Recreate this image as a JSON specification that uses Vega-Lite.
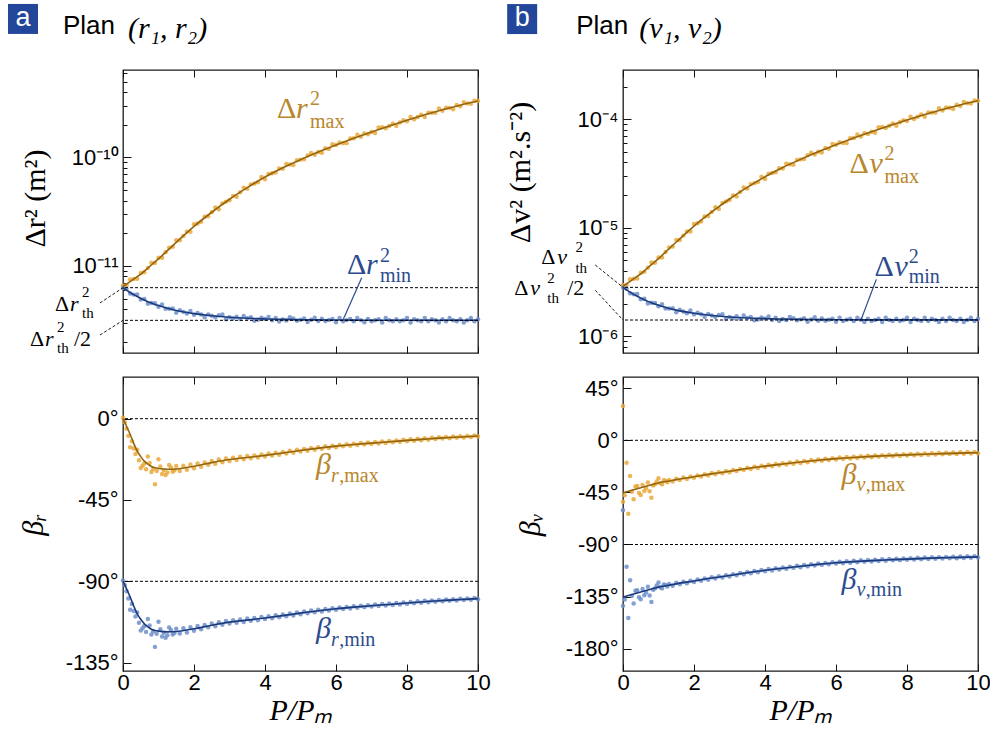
{
"$schema":"https://vega.github.io/schema/vega-lite/v6.json",
"background":"white",
"padding":{"left":7,"top":3,"right":0,"bottom":0},
"autosize":{"type":"pad"},
"config":{
 "view":{"stroke":"#1a1a1a","strokeWidth":1.3},
 "axis":{"domain":false,"grid":false,"tickColor":"#111","tickWidth":1,"labelFont":"Liberation Sans","labelFontSize":22,"labelColor":"#000","titleFont":"Liberation Serif","titleFontSize":28,"titleFontWeight":"normal","titleColor":"#000","labelFlush":false,"labelOverlap":false},
 "text":{"font":"Liberation Serif"}
},
"datasets":{
"pts":[
{"p":0,"rx":-11.18,"vx":-5.53,"rn":-11.2,"vn":-5.55,"brx":0.5,"brn":-89.5,"bvx":-53,"bvn":-143},
{"p":0.1,"rx":-11.177,"vx":-5.527,"rn":-11.213,"vn":-5.563,"brx":-5.5,"brn":-95.5,"bvx":-19.3,"bvn":-109.3},
{"p":0.2,"rx":-11.124,"vx":-5.474,"rn":-11.254,"vn":-5.604,"brx":-15.8,"brn":-105.8,"bvx":-30.8,"bvn":-120.8},
{"p":0.3,"rx":-11.121,"vx":-5.471,"rn":-11.264,"vn":-5.614,"brx":-16.5,"brn":-106.5,"bvx":-51,"bvn":-141},
{"p":0.4,"rx":-11.118,"vx":-5.468,"rn":-11.262,"vn":-5.612,"brx":-17.2,"brn":-107.2,"bvx":-39.5,"bvn":-129.5},
{"p":0.5,"rx":-11.065,"vx":-5.415,"rn":-11.309,"vn":-5.659,"brx":-27.3,"brn":-117.3,"bvx":-47.3,"bvn":-137.3},
{"p":0.6,"rx":-11.057,"vx":-5.407,"rn":-11.304,"vn":-5.654,"brx":-24.8,"brn":-114.8,"bvx":-43.8,"bvn":-133.8},
{"p":0.7,"rx":-11.019,"vx":-5.369,"rn":-11.349,"vn":-5.699,"brx":-20.9,"brn":-110.9,"bvx":-36.5,"bvn":-126.5},
{"p":0.8,"rx":-10.971,"vx":-5.321,"rn":-11.342,"vn":-5.692,"brx":-29.5,"brn":-119.5,"bvx":-49.6,"bvn":-139.6},
{"p":0.9,"rx":-10.973,"vx":-5.323,"rn":-11.344,"vn":-5.694,"brx":-36.3,"brn":-126.3,"bvx":-38,"bvn":-128},
{"p":1.0,"rx":-10.925,"vx":-5.275,"rn":-11.375,"vn":-5.725,"brx":-22.4,"brn":-112.4,"bvx":-32.8,"bvn":-122.8},
{"p":1.1,"rx":-10.924,"vx":-5.274,"rn":-11.356,"vn":-5.706,"brx":-30.6,"brn":-120.6,"bvx":-37.9,"bvn":-127.9},
{"p":1.2,"rx":-10.874,"vx":-5.224,"rn":-11.395,"vn":-5.745,"brx":-31.2,"brn":-121.2,"bvx":-35,"bvn":-125},
{"p":1.3,"rx":-10.833,"vx":-5.183,"rn":-11.394,"vn":-5.744,"brx":-25.6,"brn":-115.6,"bvx":-34.2,"bvn":-124.2},
{"p":1.4,"rx":-10.823,"vx":-5.173,"rn":-11.392,"vn":-5.742,"brx":-29.4,"brn":-119.4,"bvx":-35.6,"bvn":-125.6},
{"p":1.5,"rx":-10.762,"vx":-5.112,"rn":-11.43,"vn":-5.78,"brx":-26.2,"brn":-116.2,"bvx":-33.1,"bvn":-123.1},
{"p":1.6,"rx":-10.763,"vx":-5.113,"rn":-11.407,"vn":-5.757,"brx":-28.9,"brn":-118.9,"bvx":-34.3,"bvn":-124.3},
{"p":1.7,"rx":-10.723,"vx":-5.073,"rn":-11.423,"vn":-5.773,"brx":-26,"brn":-116,"bvx":-32.2,"bvn":-122.2},
{"p":1.8,"rx":-10.684,"vx":-5.034,"rn":-11.439,"vn":-5.789,"brx":-28.3,"brn":-118.3,"bvx":-33.4,"bvn":-123.4},
{"p":1.9,"rx":-10.684,"vx":-5.034,"rn":-11.414,"vn":-5.764,"brx":-25.4,"brn":-115.4,"bvx":-31.2,"bvn":-121.2},
{"p":2.0,"rx":-10.615,"vx":-4.965,"rn":-11.449,"vn":-5.799,"brx":-27.4,"brn":-117.4,"bvx":-32.3,"bvn":-122.3},
{"p":2.1,"rx":-10.609,"vx":-4.959,"rn":-11.434,"vn":-5.784,"brx":-24.8,"brn":-114.8,"bvx":-30.3,"bvn":-120.3},
{"p":2.2,"rx":-10.593,"vx":-4.943,"rn":-11.448,"vn":-5.798,"brx":-26.6,"brn":-116.6,"bvx":-31.3,"bvn":-121.3},
{"p":2.3,"rx":-10.547,"vx":-4.897,"rn":-11.472,"vn":-5.822,"brx":-24.2,"brn":-114.2,"bvx":-29.3,"bvn":-119.3},
{"p":2.4,"rx":-10.541,"vx":-4.891,"rn":-11.446,"vn":-5.796,"brx":-25.5,"brn":-115.5,"bvx":-30.4,"bvn":-120.4},
{"p":2.5,"rx":-10.505,"vx":-4.855,"rn":-11.459,"vn":-5.809,"brx":-23.4,"brn":-113.4,"bvx":-28.3,"bvn":-118.3},
{"p":2.6,"rx":-10.461,"vx":-4.811,"rn":-11.473,"vn":-5.823,"brx":-24.9,"brn":-114.9,"bvx":-29.4,"bvn":-119.4},
{"p":2.7,"rx":-10.477,"vx":-4.827,"rn":-11.455,"vn":-5.805,"brx":-22.6,"brn":-112.6,"bvx":-27.4,"bvn":-117.4},
{"p":2.8,"rx":-10.423,"vx":-4.773,"rn":-11.448,"vn":-5.798,"brx":-24.1,"brn":-114.1,"bvx":-28.5,"bvn":-118.5},
{"p":2.9,"rx":-10.409,"vx":-4.759,"rn":-11.491,"vn":-5.841,"brx":-22,"brn":-112,"bvx":-26.5,"bvn":-116.5},
{"p":3.0,"rx":-10.395,"vx":-4.745,"rn":-11.473,"vn":-5.823,"brx":-23.4,"brn":-113.4,"bvx":-27.6,"bvn":-117.6},
{"p":3.1,"rx":-10.354,"vx":-4.704,"rn":-11.485,"vn":-5.835,"brx":-21.6,"brn":-111.6,"bvx":-25.6,"bvn":-115.6},
{"p":3.2,"rx":-10.362,"vx":-4.712,"rn":-11.467,"vn":-5.817,"brx":-22.9,"brn":-112.9,"bvx":-26.6,"bvn":-116.6},
{"p":3.3,"rx":-10.321,"vx":-4.671,"rn":-11.489,"vn":-5.839,"brx":-21.1,"brn":-111.1,"bvx":-24.7,"bvn":-114.7},
{"p":3.4,"rx":-10.279,"vx":-4.629,"rn":-11.46,"vn":-5.81,"brx":-22.5,"brn":-112.5,"bvx":-25.7,"bvn":-115.7},
{"p":3.5,"rx":-10.288,"vx":-4.638,"rn":-11.482,"vn":-5.832,"brx":-20.6,"brn":-110.6,"bvx":-23.7,"bvn":-113.7},
{"p":3.6,"rx":-10.248,"vx":-4.598,"rn":-11.473,"vn":-5.823,"brx":-21.9,"brn":-111.9,"bvx":-24.8,"bvn":-114.8},
{"p":3.7,"rx":-10.239,"vx":-4.589,"rn":-11.504,"vn":-5.854,"brx":-20.3,"brn":-110.3,"bvx":-22.9,"bvn":-112.9},
{"p":3.8,"rx":-10.229,"vx":-4.579,"rn":-11.496,"vn":-5.846,"brx":-21.5,"brn":-111.5,"bvx":-23.9,"bvn":-113.9},
{"p":3.9,"rx":-10.18,"vx":-4.53,"rn":-11.477,"vn":-5.827,"brx":-19.8,"brn":-109.8,"bvx":-22,"bvn":-112},
{"p":4.0,"rx":-10.2,"vx":-4.55,"rn":-11.488,"vn":-5.838,"brx":-20.9,"brn":-110.9,"bvx":-23.1,"bvn":-113.1},
{"p":4.1,"rx":-10.153,"vx":-4.503,"rn":-11.469,"vn":-5.819,"brx":-19.3,"brn":-109.3,"bvx":-21.2,"bvn":-111.2},
{"p":4.2,"rx":-10.146,"vx":-4.496,"rn":-11.5,"vn":-5.85,"brx":-20.4,"brn":-110.4,"bvx":-22.4,"bvn":-112.4},
{"p":4.3,"rx":-10.139,"vx":-4.489,"rn":-11.48,"vn":-5.83,"brx":-18.8,"brn":-108.8,"bvx":-20.5,"bvn":-110.5},
{"p":4.4,"rx":-10.102,"vx":-4.452,"rn":-11.511,"vn":-5.861,"brx":-19.9,"brn":-109.9,"bvx":-21.6,"bvn":-111.6},
{"p":4.5,"rx":-10.105,"vx":-4.455,"rn":-11.492,"vn":-5.842,"brx":-18.4,"brn":-108.4,"bvx":-19.8,"bvn":-109.8},
{"p":4.6,"rx":-10.06,"vx":-4.41,"rn":-11.502,"vn":-5.852,"brx":-19.3,"brn":-109.3,"bvx":-21,"bvn":-111},
{"p":4.7,"rx":-10.065,"vx":-4.415,"rn":-11.473,"vn":-5.823,"brx":-17.8,"brn":-107.8,"bvx":-19.1,"bvn":-109.1},
{"p":4.8,"rx":-10.07,"vx":-4.42,"rn":-11.484,"vn":-5.834,"brx":-18.9,"brn":-108.9,"bvx":-20.2,"bvn":-110.2},
{"p":4.9,"rx":-10.025,"vx":-4.375,"rn":-11.504,"vn":-5.854,"brx":-17.2,"brn":-107.2,"bvx":-18.4,"bvn":-108.4},
{"p":5.0,"rx":-10.02,"vx":-4.37,"rn":-11.495,"vn":-5.845,"brx":-18.2,"brn":-108.2,"bvx":-19.6,"bvn":-109.6},
{"p":5.1,"rx":-10.016,"vx":-4.366,"rn":-11.485,"vn":-5.835,"brx":-16.7,"brn":-106.7,"bvx":-17.8,"bvn":-107.8},
{"p":5.2,"rx":-9.982,"vx":-4.332,"rn":-11.516,"vn":-5.866,"brx":-17.7,"brn":-107.7,"bvx":-18.9,"bvn":-108.9},
{"p":5.3,"rx":-9.958,"vx":-4.308,"rn":-11.496,"vn":-5.846,"brx":-16.2,"brn":-106.2,"bvx":-17.1,"bvn":-107.1},
{"p":5.4,"rx":-9.974,"vx":-4.324,"rn":-11.476,"vn":-5.826,"brx":-17.2,"brn":-107.2,"bvx":-18.2,"bvn":-108.2},
{"p":5.5,"rx":-9.95,"vx":-4.3,"rn":-11.507,"vn":-5.857,"brx":-15.8,"brn":-105.8,"bvx":-16.5,"bvn":-106.5},
{"p":5.6,"rx":-9.957,"vx":-4.307,"rn":-11.487,"vn":-5.837,"brx":-16.7,"brn":-106.7,"bvx":-17.6,"bvn":-107.6},
{"p":5.7,"rx":-9.914,"vx":-4.264,"rn":-11.507,"vn":-5.857,"brx":-15.3,"brn":-105.3,"bvx":-15.9,"bvn":-105.9},
{"p":5.8,"rx":-9.921,"vx":-4.271,"rn":-11.498,"vn":-5.848,"brx":-16.2,"brn":-106.2,"bvx":-17.1,"bvn":-107.1},
{"p":5.9,"rx":-9.878,"vx":-4.228,"rn":-11.488,"vn":-5.838,"brx":-14.9,"brn":-104.9,"bvx":-15.4,"bvn":-105.4},
{"p":6.0,"rx":-9.885,"vx":-4.235,"rn":-11.518,"vn":-5.868,"brx":-15.8,"brn":-105.8,"bvx":-16.5,"bvn":-106.5},
{"p":6.1,"rx":-9.863,"vx":-4.213,"rn":-11.479,"vn":-5.829,"brx":-14.5,"brn":-104.5,"bvx":-14.9,"bvn":-104.9},
{"p":6.2,"rx":-9.87,"vx":-4.22,"rn":-11.509,"vn":-5.859,"brx":-15.3,"brn":-105.3,"bvx":-16.1,"bvn":-106.1},
{"p":6.3,"rx":-9.868,"vx":-4.218,"rn":-11.499,"vn":-5.849,"brx":-14.2,"brn":-104.2,"bvx":-14.5,"bvn":-104.5},
{"p":6.4,"rx":-9.825,"vx":-4.175,"rn":-11.489,"vn":-5.839,"brx":-15,"brn":-105,"bvx":-15.7,"bvn":-105.7},
{"p":6.5,"rx":-9.823,"vx":-4.173,"rn":-11.509,"vn":-5.859,"brx":-13.8,"brn":-103.8,"bvx":-14.1,"bvn":-104.1},
{"p":6.6,"rx":-9.791,"vx":-4.141,"rn":-11.479,"vn":-5.829,"brx":-14.6,"brn":-104.6,"bvx":-15.3,"bvn":-105.3},
{"p":6.7,"rx":-9.81,"vx":-4.16,"rn":-11.499,"vn":-5.849,"brx":-13.5,"brn":-103.5,"bvx":-13.7,"bvn":-103.7},
{"p":6.8,"rx":-9.778,"vx":-4.128,"rn":-11.519,"vn":-5.869,"brx":-14.3,"brn":-104.3,"bvx":-14.9,"bvn":-104.9},
{"p":6.9,"rx":-9.787,"vx":-4.137,"rn":-11.489,"vn":-5.839,"brx":-13.2,"brn":-103.2,"bvx":-13.4,"bvn":-103.4},
{"p":7.0,"rx":-9.765,"vx":-4.115,"rn":-11.51,"vn":-5.86,"brx":-14,"brn":-104,"bvx":-14.6,"bvn":-104.6},
{"p":7.1,"rx":-9.774,"vx":-4.124,"rn":-11.5,"vn":-5.85,"brx":-12.9,"brn":-102.9,"bvx":-13.1,"bvn":-103.1},
{"p":7.2,"rx":-9.723,"vx":-4.073,"rn":-11.49,"vn":-5.84,"brx":-13.7,"brn":-103.7,"bvx":-14.3,"bvn":-104.3},
{"p":7.3,"rx":-9.722,"vx":-4.072,"rn":-11.52,"vn":-5.87,"brx":-12.6,"brn":-102.6,"bvx":-12.8,"bvn":-102.8},
{"p":7.4,"rx":-9.731,"vx":-4.081,"rn":-11.48,"vn":-5.83,"brx":-13.4,"brn":-103.4,"bvx":-14,"bvn":-104},
{"p":7.5,"rx":-9.71,"vx":-4.06,"rn":-11.5,"vn":-5.85,"brx":-12.3,"brn":-102.3,"bvx":-12.5,"bvn":-102.5},
{"p":7.6,"rx":-9.689,"vx":-4.039,"rn":-11.51,"vn":-5.86,"brx":-13.1,"brn":-103.1,"bvx":-13.7,"bvn":-103.7},
{"p":7.7,"rx":-9.709,"vx":-4.059,"rn":-11.49,"vn":-5.84,"brx":-12,"brn":-102,"bvx":-12.3,"bvn":-102.3},
{"p":7.8,"rx":-9.678,"vx":-4.028,"rn":-11.51,"vn":-5.86,"brx":-12.8,"brn":-102.8,"bvx":-13.5,"bvn":-103.5},
{"p":7.9,"rx":-9.658,"vx":-4.008,"rn":-11.5,"vn":-5.85,"brx":-11.7,"brn":-101.7,"bvx":-12,"bvn":-102},
{"p":8.0,"rx":-9.667,"vx":-4.017,"rn":-11.48,"vn":-5.83,"brx":-12.5,"brn":-102.5,"bvx":-13.2,"bvn":-103.2},
{"p":8.1,"rx":-9.627,"vx":-3.977,"rn":-11.52,"vn":-5.87,"brx":-11.4,"brn":-101.4,"bvx":-11.8,"bvn":-101.8},
{"p":8.2,"rx":-9.647,"vx":-3.997,"rn":-11.49,"vn":-5.84,"brx":-12.2,"brn":-102.2,"bvx":-13,"bvn":-103},
{"p":8.3,"rx":-9.627,"vx":-3.977,"rn":-11.5,"vn":-5.85,"brx":-11.1,"brn":-101.1,"bvx":-11.5,"bvn":-101.5},
{"p":8.4,"rx":-9.607,"vx":-3.957,"rn":-11.51,"vn":-5.86,"brx":-11.9,"brn":-101.9,"bvx":-12.7,"bvn":-102.7},
{"p":8.5,"rx":-9.627,"vx":-3.977,"rn":-11.48,"vn":-5.83,"brx":-10.8,"brn":-100.8,"bvx":-11.3,"bvn":-101.3},
{"p":8.6,"rx":-9.588,"vx":-3.938,"rn":-11.51,"vn":-5.86,"brx":-11.6,"brn":-101.6,"bvx":-12.5,"bvn":-102.5},
{"p":8.7,"rx":-9.588,"vx":-3.938,"rn":-11.49,"vn":-5.84,"brx":-10.6,"brn":-100.6,"bvx":-11.1,"bvn":-101.1},
{"p":8.8,"rx":-9.589,"vx":-3.939,"rn":-11.5,"vn":-5.85,"brx":-11.3,"brn":-101.3,"bvx":-12.3,"bvn":-102.3},
{"p":8.9,"rx":-9.549,"vx":-3.899,"rn":-11.52,"vn":-5.87,"brx":-10.3,"brn":-100.3,"bvx":-10.9,"bvn":-100.9},
{"p":9.0,"rx":-9.57,"vx":-3.92,"rn":-11.49,"vn":-5.84,"brx":-11,"brn":-101,"bvx":-12.1,"bvn":-102.1},
{"p":9.1,"rx":-9.542,"vx":-3.892,"rn":-11.51,"vn":-5.86,"brx":-10.1,"brn":-100.1,"bvx":-10.7,"bvn":-100.7},
{"p":9.2,"rx":-9.543,"vx":-3.893,"rn":-11.48,"vn":-5.83,"brx":-10.8,"brn":-100.8,"bvx":-11.9,"bvn":-101.9},
{"p":9.3,"rx":-9.555,"vx":-3.905,"rn":-11.5,"vn":-5.85,"brx":-9.9,"brn":-99.9,"bvx":-10.6,"bvn":-100.6},
{"p":9.4,"rx":-9.516,"vx":-3.866,"rn":-11.51,"vn":-5.86,"brx":-10.6,"brn":-100.6,"bvx":-11.8,"bvn":-101.8},
{"p":9.5,"rx":-9.528,"vx":-3.878,"rn":-11.49,"vn":-5.84,"brx":-9.7,"brn":-99.7,"bvx":-10.4,"bvn":-100.4},
{"p":9.6,"rx":-9.49,"vx":-3.84,"rn":-11.52,"vn":-5.87,"brx":-10.4,"brn":-100.4,"bvx":-11.6,"bvn":-101.6},
{"p":9.7,"rx":-9.503,"vx":-3.853,"rn":-11.5,"vn":-5.85,"brx":-9.5,"brn":-99.5,"bvx":-10.2,"bvn":-100.2},
{"p":9.8,"rx":-9.505,"vx":-3.855,"rn":-11.48,"vn":-5.83,"brx":-10.2,"brn":-100.2,"bvx":-11.4,"bvn":-101.4},
{"p":9.9,"rx":-9.478,"vx":-3.828,"rn":-11.51,"vn":-5.86,"brx":-9.3,"brn":-99.3,"bvx":-10.1,"bvn":-100.1},
{"p":10.0,"rx":-9.48,"vx":-3.83,"rn":-11.49,"vn":-5.84,"brx":-9.9,"brn":-99.9,"bvx":-11.2,"bvn":-101.2},
{"p":0,"bvx":29.6,"bvn":-60.4},
{"p":0.05,"brx":-2,"brn":-92,"bvx":-47.5,"bvn":-137.5},
{"p":0.15,"brx":-9.5,"brn":-99.5,"bvx":-63.4,"bvn":-153.4},
{"p":0.25,"brx":-12.5,"brn":-102.5,"bvx":-44.5,"bvn":-134.5},
{"p":0.35,"brx":-19.5,"brn":-109.5,"bvx":-40,"bvn":-130},
{"p":0.45,"brx":-23,"brn":-113,"bvx":-45.5,"bvn":-135.5},
{"p":0.55,"brx":-26,"brn":-116,"bvx":-38.5,"bvn":-128.5},
{"p":0.65,"brx":-28,"brn":-118,"bvx":-41.5,"bvn":-131.5},
{"p":0.75,"brx":-24.5,"brn":-114.5,"bvx":-44,"bvn":-134},
{"p":0.85,"brx":-27.8,"brn":-117.8,"bvx":-39,"bvn":-129},
{"p":0.95,"brx":-29,"brn":-119,"bvx":-35.5,"bvn":-125.5},
{"p":1.05,"brx":-26.5,"brn":-116.5,"bvx":-37,"bvn":-127},
{"p":1.15,"brx":-28.5,"brn":-118.5,"bvx":-34.5,"bvn":-124.5},
{"p":1.25,"brx":-29.8,"brn":-119.8,"bvx":-36.2,"bvn":-126.2},
{"p":1.35,"brx":-27,"brn":-117},
{"p":1.45,"brx":-28.6,"brn":-118.6}
],
"fit":[
{"p":0,"rx":-11.19,"rn":-11.2,"vx":-5.54,"vn":-5.55,"brx":0,"brn":-90,"bvx":-45.3,"bvn":-135.3},
{"p":0.1,"rx":-11.167,"rn":-11.223,"vx":-5.517,"vn":-5.573,"brx":-4.2,"brn":-94.2,"bvx":-44.4,"bvn":-134.4},
{"p":0.2,"rx":-11.144,"rn":-11.244,"vx":-5.494,"vn":-5.594,"brx":-8.6,"brn":-98.6,"bvx":-43.6,"bvn":-133.6},
{"p":0.3,"rx":-11.121,"rn":-11.264,"vx":-5.471,"vn":-5.614,"brx":-13.5,"brn":-103.5,"bvx":-42.7,"bvn":-132.7},
{"p":0.4,"rx":-11.098,"rn":-11.282,"vx":-5.448,"vn":-5.632,"brx":-18,"brn":-108,"bvx":-41.9,"bvn":-131.9},
{"p":0.5,"rx":-11.075,"rn":-11.299,"vx":-5.425,"vn":-5.649,"brx":-21,"brn":-111,"bvx":-41,"bvn":-131},
{"p":0.6,"rx":-11.047,"rn":-11.314,"vx":-5.397,"vn":-5.664,"brx":-23.5,"brn":-113.5,"bvx":-40.2,"bvn":-130.2},
{"p":0.7,"rx":-11.019,"rn":-11.329,"vx":-5.369,"vn":-5.679,"brx":-25.2,"brn":-115.2,"bvx":-39.3,"bvn":-129.3},
{"p":0.8,"rx":-10.991,"rn":-11.342,"vx":-5.341,"vn":-5.692,"brx":-26.5,"brn":-116.5,"bvx":-38.5,"bvn":-128.5},
{"p":0.9,"rx":-10.963,"rn":-11.354,"vx":-5.313,"vn":-5.704,"brx":-27.2,"brn":-117.2,"bvx":-37.6,"bvn":-127.6},
{"p":1.0,"rx":-10.935,"rn":-11.365,"vx":-5.285,"vn":-5.715,"brx":-27.6,"brn":-117.6,"bvx":-36.8,"bvn":-126.8},
{"p":1.25,"rx":-10.858,"rn":-11.39,"vx":-5.208,"vn":-5.74,"brx":-28,"brn":-118,"bvx":-35.4,"bvn":-125.4},
{"p":1.5,"rx":-10.782,"rn":-11.41,"vx":-5.132,"vn":-5.76,"brx":-27.8,"brn":-117.8,"bvx":-34,"bvn":-124},
{"p":2,"rx":-10.635,"rn":-11.439,"vx":-4.985,"vn":-5.789,"brx":-26.3,"brn":-116.3,"bvx":-31.5,"bvn":-121.5},
{"p":2.5,"rx":-10.505,"rn":-11.459,"vx":-4.855,"vn":-5.809,"brx":-24.3,"brn":-114.3,"bvx":-29,"bvn":-119},
{"p":3,"rx":-10.385,"rn":-11.473,"vx":-4.735,"vn":-5.823,"brx":-22.6,"brn":-112.6,"bvx":-26.8,"bvn":-116.8},
{"p":3.5,"rx":-10.278,"rn":-11.482,"vx":-4.628,"vn":-5.832,"brx":-21.5,"brn":-111.5,"bvx":-24.4,"bvn":-114.4},
{"p":4,"rx":-10.18,"rn":-11.488,"vx":-4.53,"vn":-5.838,"brx":-20.3,"brn":-110.3,"bvx":-22.3,"bvn":-112.3},
{"p":4.5,"rx":-10.095,"rn":-11.492,"vx":-4.445,"vn":-5.842,"brx":-19,"brn":-109,"bvx":-20.5,"bvn":-110.5},
{"p":5,"rx":-10.02,"rn":-11.495,"vx":-4.37,"vn":-5.845,"brx":-17.6,"brn":-107.6,"bvx":-18.8,"bvn":-108.8},
{"p":5.5,"rx":-9.95,"rn":-11.497,"vx":-4.3,"vn":-5.847,"brx":-16.3,"brn":-106.3,"bvx":-17.2,"bvn":-107.2},
{"p":6,"rx":-9.885,"rn":-11.498,"vx":-4.235,"vn":-5.848,"brx":-15.2,"brn":-105.2,"bvx":-15.8,"bvn":-105.8},
{"p":6.5,"rx":-9.823,"rn":-11.499,"vx":-4.173,"vn":-5.849,"brx":-14.3,"brn":-104.3,"bvx":-14.8,"bvn":-104.8},
{"p":7,"rx":-9.765,"rn":-11.5,"vx":-4.115,"vn":-5.85,"brx":-13.5,"brn":-103.5,"bvx":-13.9,"bvn":-103.9},
{"p":7.5,"rx":-9.71,"rn":-11.5,"vx":-4.06,"vn":-5.85,"brx":-12.8,"brn":-102.8,"bvx":-13.2,"bvn":-103.2},
{"p":8,"rx":-9.657,"rn":-11.5,"vx":-4.007,"vn":-5.85,"brx":-12,"brn":-102,"bvx":-12.6,"bvn":-102.6},
{"p":8.5,"rx":-9.607,"rn":-11.5,"vx":-3.957,"vn":-5.85,"brx":-11.3,"brn":-101.3,"bvx":-12,"bvn":-102},
{"p":9,"rx":-9.56,"rn":-11.5,"vx":-3.91,"vn":-5.85,"brx":-10.6,"brn":-100.6,"bvx":-11.5,"bvn":-101.5},
{"p":9.5,"rx":-9.518,"rn":-11.5,"vx":-3.868,"vn":-5.85,"brx":-10.1,"brn":-100.1,"bvx":-11.1,"bvn":-101.1},
{"p":10,"rx":-9.48,"rn":-11.5,"vx":-3.83,"vn":-5.85,"brx":-9.6,"brn":-99.6,"bvx":-10.7,"bvn":-100.7}
],
"refl":[
{"pan":"LT","y":-11.2},{"pan":"LT","y":-11.501},
{"pan":"RT","y":-5.55},{"pan":"RT","y":-5.851},
{"pan":"LB","y":0},{"pan":"LB","y":-90},
{"pan":"RB","y":0},{"pan":"RB","y":-90}
],
"lead":[
{"pan":"LT","id":"t1","kind":"th","p":-0.648,"y":-11.341},{"pan":"LT","id":"t1","kind":"th","p":0,"y":-11.2},
{"pan":"LT","id":"t2","kind":"th","p":-0.648,"y":-11.636},{"pan":"LT","id":"t2","kind":"th","p":0,"y":-11.501},
{"pan":"LT","id":"m","kind":"min","p":6.724,"y":-11.108},{"pan":"LT","id":"m","kind":"min","p":6.206,"y":-11.491},
{"pan":"RT","id":"t1","kind":"th","p":-0.781,"y":-5.344},{"pan":"RT","id":"t1","kind":"th","p":0,"y":-5.55},
{"pan":"RT","id":"t2","kind":"th","p":-0.781,"y":-5.577},{"pan":"RT","id":"t2","kind":"th","p":0,"y":-5.851},
{"pan":"RT","id":"m","kind":"min","p":7.135,"y":-5.476},{"pan":"RT","id":"m","kind":"min","p":6.712,"y":-5.844}
],
"ann":[
{"pan":"LT","k":"Lr","s":"o","t":"Δ","p":4.338,"y":-9.636},
{"pan":"LT","k":"Li","s":"o","t":"r","p":4.873,"y":-9.636},
{"pan":"LT","k":"Sr","s":"o","t":"2","p":5.268,"y":-9.516},
{"pan":"LT","k":"Sr","s":"o","t":"max","p":5.268,"y":-9.728},
{"pan":"LT","k":"Lr","s":"b","t":"Δ","p":6.31,"y":-11.074},
{"pan":"LT","k":"Li","s":"b","t":"r","p":6.845,"y":-11.074},
{"pan":"LT","k":"Sr","s":"b","t":"2","p":7.239,"y":-10.963},
{"pan":"LT","k":"Sr","s":"b","t":"min","p":7.239,"y":-11.147},
{"pan":"LT","k":"Mr","s":"k","t":"Δ","p":-1.915,"y":-11.415},
{"pan":"LT","k":"Mi","s":"k","t":"r","p":-1.493,"y":-11.415},
{"pan":"LT","k":"Nr","s":"k","t":"2","p":-1.155,"y":-11.286},
{"pan":"LT","k":"Nr","s":"k","t":"th","p":-1.155,"y":-11.479},
{"pan":"LT","k":"Mr","s":"k","t":"Δ","p":-2.62,"y":-11.737},
{"pan":"LT","k":"Mi","s":"k","t":"r","p":-2.197,"y":-11.737},
{"pan":"LT","k":"Nr","s":"k","t":"2","p":-1.859,"y":-11.608},
{"pan":"LT","k":"Nr","s":"k","t":"th","p":-1.859,"y":-11.802},
{"pan":"LT","k":"Mr","s":"k","t":"/2","p":-1.38,"y":-11.737},
{"pan":"LT","k":"Tb","s":"w","t":"a","p":-2.817,"y":-8.7235},
{"pan":"LT","k":"Ts","s":"k","t":"Plan","p":-1.69,"y":-8.862},
{"pan":"LT","k":"Ti","s":"k","t":"(r₁, r₂)","p":0.141,"y":-8.899},
{"pan":"LB","k":"Li","s":"o","t":"β","p":5.437,"y":-30.61},
{"pan":"LB","k":"Si","s":"o","t":"r","p":5.86,"y":-35.04},
{"pan":"LB","k":"Sr","s":"o","t":",max","p":6.09,"y":-35.04},
{"pan":"LB","k":"Li","s":"b","t":"β","p":5.437,"y":-121.38},
{"pan":"LB","k":"Si","s":"b","t":"r","p":5.86,"y":-125.81},
{"pan":"LB","k":"Sr","s":"b","t":",min","p":6.09,"y":-125.81},
{"pan":"RT","k":"Lr","s":"o","t":"Δ","p":6.38,"y":-4.496},
{"pan":"RT","k":"Li","s":"o","t":"v","p":6.944,"y":-4.496},
{"pan":"RT","k":"Sr","s":"o","t":"2","p":7.367,"y":-4.376},
{"pan":"RT","k":"Sr","s":"o","t":"max","p":7.367,"y":-4.588},
{"pan":"RT","k":"Lr","s":"b","t":"Δ","p":7.087,"y":-5.445},
{"pan":"RT","k":"Li","s":"b","t":"v","p":7.651,"y":-5.445},
{"pan":"RT","k":"Sr","s":"b","t":"2","p":8.046,"y":-5.325},
{"pan":"RT","k":"Sr","s":"b","t":"min","p":8.046,"y":-5.51},
{"pan":"RT","k":"Mr","s":"k","t":"Δ","p":-2.3,"y":-5.335},
{"pan":"RT","k":"Mi","s":"k","t":"v","p":-1.849,"y":-5.335},
{"pan":"RT","k":"Nr","s":"k","t":"2","p":-1.341,"y":-5.224},
{"pan":"RT","k":"Nr","s":"k","t":"th","p":-1.341,"y":-5.418},
{"pan":"RT","k":"Mr","s":"k","t":"Δ","p":-3.065,"y":-5.62},
{"pan":"RT","k":"Mi","s":"k","t":"v","p":-2.614,"y":-5.62},
{"pan":"RT","k":"Nr","s":"k","t":"2","p":-2.135,"y":-5.509},
{"pan":"RT","k":"Nr","s":"k","t":"th","p":-2.135,"y":-5.694},
{"pan":"RT","k":"Mr","s":"k","t":"/2","p":-1.571,"y":-5.62},
{"pan":"RT","k":"Tb","s":"w","t":"b","p":-2.84,"y":-3.0765},
{"pan":"RT","k":"Ts","s":"k","t":"Plan","p":-1.317,"y":-3.215},
{"pan":"RT","k":"Ti","s":"k","t":"(v₁, v₂)","p":0.46,"y":-3.252},
{"pan":"RB","k":"Li","s":"o","t":"β","p":6.156,"y":-37.74},
{"pan":"RB","k":"Si","s":"o","t":"v","p":6.58,"y":-43.79},
{"pan":"RB","k":"Sr","s":"o","t":",max","p":6.84,"y":-43.79},
{"pan":"RB","k":"Li","s":"b","t":"β","p":6.156,"y":-128.43},
{"pan":"RB","k":"Si","s":"b","t":"v","p":6.58,"y":-134.48},
{"pan":"RB","k":"Sr","s":"b","t":",min","p":6.84,"y":-134.48}
]
},
"bounds":"flush",
"spacing":500,
"hconcat":[
{"bounds":"flush","spacing":24,"vconcat":[
{"width":355,"height":283,"resolve":{"axis":{"x":"independent","y":"independent"}},"layer":[
{"data":{"name":"pts"},"mark":{"type":"point","filled":true,"size":20,"color":"#E9A83A","opacity":0.85,"strokeWidth":0},
 "encoding":{"x":{"field":"p","type":"quantitative","scale":{"domain":[0,10],"nice":false,"zero":false},"axis":{"orient":"bottom","values":[0,2,4,6,8,10],"labels":false,"tickSize":-7,"title":null}},
 "y":{"field":"rx","type":"quantitative","scale":{"domain":[-11.802,-9.194],"nice":false,"zero":false},"axis":{"orient":"left","values":[-11,-10],"labelExpr":"datum.value == -10 ? '10⁻¹⁰' : '10⁻¹¹'","labelOverlap":false,"tickSize":-8,"labelPadding":13,"title":"Δr² (m²)","titleFontSize":30,"titleX":-88,"titleY":128,"titleBaseline":"middle"}}}},
{"data":{"name":"pts"},"mark":{"type":"point","filled":true,"size":20,"color":"#6E8FCB","opacity":0.85,"strokeWidth":0},
 "encoding":{"x":{"field":"p","type":"quantitative","axis":{"orient":"top","values":[0,2,4,6,8,10],"labels":false,"tickSize":-7,"title":null}},"y":{"field":"rn","type":"quantitative","axis":{"orient":"left","values":[-11.699,-11.523,-11.398,-11.301,-11.222,-11.155,-11.097,-11.046,-10.699,-10.523,-10.398,-10.301,-10.222,-10.155,-10.097,-10.046,-9.699,-9.523,-9.398,-9.301,-9.222],"labels":false,"tickSize":-4,"title":null}}}},
{"data":{"name":"fit"},"mark":{"type":"line","color":"#93650F","strokeWidth":1.6,"interpolate":"monotone"},"encoding":{"x":{"field":"p","type":"quantitative","axis":null},"y":{"field":"rx","type":"quantitative","axis":null}}},
{"data":{"name":"fit"},"mark":{"type":"line","color":"#1B3A7C","strokeWidth":1.6,"interpolate":"monotone"},"encoding":{"x":{"field":"p","type":"quantitative","axis":null},"y":{"field":"rn","type":"quantitative","axis":null}}},
{"data":{"name":"refl"},"transform":[{"filter":"datum.pan=='LT'"}],"mark":{"type":"rule","color":"#000","strokeWidth":1,"strokeDash":[3,2]},"encoding":{"y":{"field":"y","type":"quantitative","axis":null}}},
{"data":{"name":"lead"},"transform":[{"filter":"datum.pan=='LT' && datum.kind=='th'"}],"mark":{"type":"line","color":"#000","strokeWidth":0.9,"strokeDash":[3,2]},"encoding":{"x":{"field":"p","type":"quantitative","axis":null},"y":{"field":"y","type":"quantitative","axis":null},"detail":{"field":"id","type":"nominal"}}},
{"data":{"name":"lead"},"transform":[{"filter":"datum.pan=='LT' && datum.kind=='min'"}],"mark":{"type":"line","color":"#2B4B8E","strokeWidth":1.2},"encoding":{"x":{"field":"p","type":"quantitative","axis":null},"y":{"field":"y","type":"quantitative","axis":null},"detail":{"field":"id","type":"nominal"}}},
{"data":{"name":"ann"},"transform":[{"filter":"datum.pan=='LT' && datum.k=='Tb'"}],"mark":{"type":"point","shape":"square","size":900,"filled":true,"color":"#22479A","opacity":1,"strokeWidth":0},"encoding":{"x":{"field":"p","type":"quantitative","axis":null},"y":{"field":"y","type":"quantitative","axis":null}}},
{"data":{"name":"ann"},"transform":[{"filter":"datum.pan=='LT' && datum.k=='Tb'"}],"mark":{"type":"text","font":"Liberation Sans","fontSize":27,"align":"center","baseline":"middle","dy":-1},"encoding":{"x":{"field":"p","type":"quantitative","axis":null},"y":{"field":"y","type":"quantitative","axis":null},"text":{"field":"t","type":"nominal"},"color":{"field":"s","type":"nominal","scale":{"domain":["o","b","k","w"],"range":["#B8862B","#2B4B8E","#000000","#FFFFFF"]},"legend":null}}},
{"data":{"name":"ann"},"transform":[{"filter":"datum.pan=='LT' && datum.k=='Ts'"}],"mark":{"type":"text","font":"Liberation Sans","fontSize":26,"align":"left","baseline":"alphabetic"},"encoding":{"x":{"field":"p","type":"quantitative","axis":null},"y":{"field":"y","type":"quantitative","axis":null},"text":{"field":"t","type":"nominal"},"color":{"field":"s","type":"nominal","scale":{"domain":["o","b","k","w"],"range":["#B8862B","#2B4B8E","#000000","#FFFFFF"]},"legend":null}}},
{"data":{"name":"ann"},"transform":[{"filter":"datum.pan=='LT' && datum.k=='Ti'"}],"mark":{"type":"text","font":"Liberation Serif","fontSize":30,"fontStyle":"italic","align":"left","baseline":"alphabetic"},"encoding":{"x":{"field":"p","type":"quantitative","axis":null},"y":{"field":"y","type":"quantitative","axis":null},"text":{"field":"t","type":"nominal"},"color":{"field":"s","type":"nominal","scale":{"domain":["o","b","k","w"],"range":["#B8862B","#2B4B8E","#000000","#FFFFFF"]},"legend":null}}},
{"data":{"name":"ann"},"transform":[{"filter":"datum.pan=='LT' && datum.k=='Lr'"}],"mark":{"type":"text","font":"Liberation Serif","fontSize":30,"align":"left","baseline":"alphabetic"},"encoding":{"x":{"field":"p","type":"quantitative","axis":null},"y":{"field":"y","type":"quantitative","axis":null},"text":{"field":"t","type":"nominal"},"color":{"field":"s","type":"nominal","scale":{"domain":["o","b","k","w"],"range":["#B8862B","#2B4B8E","#000000","#FFFFFF"]},"legend":null}}},
{"data":{"name":"ann"},"transform":[{"filter":"datum.pan=='LT' && datum.k=='Li'"}],"mark":{"type":"text","font":"Liberation Serif","fontSize":30,"fontStyle":"italic","align":"left","baseline":"alphabetic"},"encoding":{"x":{"field":"p","type":"quantitative","axis":null},"y":{"field":"y","type":"quantitative","axis":null},"text":{"field":"t","type":"nominal"},"color":{"field":"s","type":"nominal","scale":{"domain":["o","b","k","w"],"range":["#B8862B","#2B4B8E","#000000","#FFFFFF"]},"legend":null}}},
{"data":{"name":"ann"},"transform":[{"filter":"datum.pan=='LT' && datum.k=='Sr'"}],"mark":{"type":"text","font":"Liberation Serif","fontSize":20,"align":"left","baseline":"alphabetic"},"encoding":{"x":{"field":"p","type":"quantitative","axis":null},"y":{"field":"y","type":"quantitative","axis":null},"text":{"field":"t","type":"nominal"},"color":{"field":"s","type":"nominal","scale":{"domain":["o","b","k","w"],"range":["#B8862B","#2B4B8E","#000000","#FFFFFF"]},"legend":null}}},
{"data":{"name":"ann"},"transform":[{"filter":"datum.pan=='LT' && datum.k=='Mr'"}],"mark":{"type":"text","font":"Liberation Serif","fontSize":22,"align":"left","baseline":"alphabetic"},"encoding":{"x":{"field":"p","type":"quantitative","axis":null},"y":{"field":"y","type":"quantitative","axis":null},"text":{"field":"t","type":"nominal"},"color":{"field":"s","type":"nominal","scale":{"domain":["o","b","k","w"],"range":["#B8862B","#2B4B8E","#000000","#FFFFFF"]},"legend":null}}},
{"data":{"name":"ann"},"transform":[{"filter":"datum.pan=='LT' && datum.k=='Mi'"}],"mark":{"type":"text","font":"Liberation Serif","fontSize":22,"fontStyle":"italic","align":"left","baseline":"alphabetic"},"encoding":{"x":{"field":"p","type":"quantitative","axis":null},"y":{"field":"y","type":"quantitative","axis":null},"text":{"field":"t","type":"nominal"},"color":{"field":"s","type":"nominal","scale":{"domain":["o","b","k","w"],"range":["#B8862B","#2B4B8E","#000000","#FFFFFF"]},"legend":null}}},
{"data":{"name":"ann"},"transform":[{"filter":"datum.pan=='LT' && datum.k=='Nr'"}],"mark":{"type":"text","font":"Liberation Serif","fontSize":15,"align":"left","baseline":"alphabetic"},"encoding":{"x":{"field":"p","type":"quantitative","axis":null},"y":{"field":"y","type":"quantitative","axis":null},"text":{"field":"t","type":"nominal"},"color":{"field":"s","type":"nominal","scale":{"domain":["o","b","k","w"],"range":["#B8862B","#2B4B8E","#000000","#FFFFFF"]},"legend":null}}}
]},
{"width":355,"height":294,"resolve":{"axis":{"x":"independent"}},"layer":[
{"data":{"name":"pts"},"mark":{"type":"point","filled":true,"size":20,"color":"#E9A83A","opacity":0.85,"strokeWidth":0},
 "encoding":{"x":{"field":"p","type":"quantitative","scale":{"domain":[0,10],"nice":false,"zero":false},"axis":{"orient":"bottom","values":[0,2,4,6,8,10],"tickSize":-7,"labelPadding":8,"title":"P/Pₘ","titleFontStyle":"italic","titleFontSize":30,"titlePadding":2}},
 "y":{"field":"brx","type":"quantitative","scale":{"domain":[-139.65,23.08],"nice":false,"zero":false},"axis":{"orient":"left","values":[0,-45,-90,-135],"labelExpr":"datum.value + '°'","labelOverlap":false,"tickSize":-8,"labelPadding":13,"title":"βᵣ","titleFontStyle":"italic","titleFontSize":30,"titleX":-90,"titleBaseline":"middle"}}}},
{"data":{"name":"pts"},"mark":{"type":"point","filled":true,"size":20,"color":"#6E8FCB","opacity":0.85,"strokeWidth":0},
 "encoding":{"x":{"field":"p","type":"quantitative","axis":{"orient":"top","values":[0,2,4,6,8,10],"labels":false,"tickSize":-7,"title":null}},"y":{"field":"brn","type":"quantitative"}}},
{"data":{"name":"fit"},"mark":{"type":"line","color":"#93650F","strokeWidth":1.6,"interpolate":"monotone"},"encoding":{"x":{"field":"p","type":"quantitative","axis":null},"y":{"field":"brx","type":"quantitative"}}},
{"data":{"name":"fit"},"mark":{"type":"line","color":"#1B3A7C","strokeWidth":1.6,"interpolate":"monotone"},"encoding":{"x":{"field":"p","type":"quantitative","axis":null},"y":{"field":"brn","type":"quantitative"}}},
{"data":{"name":"refl"},"transform":[{"filter":"datum.pan=='LB'"}],"mark":{"type":"rule","color":"#000","strokeWidth":1,"strokeDash":[3,2]},"encoding":{"y":{"field":"y","type":"quantitative"}}},
{"data":{"name":"ann"},"transform":[{"filter":"datum.pan=='LB' && datum.k=='Li'"}],"mark":{"type":"text","font":"Liberation Serif","fontSize":30,"fontStyle":"italic","align":"left","baseline":"alphabetic"},"encoding":{"x":{"field":"p","type":"quantitative","axis":null},"y":{"field":"y","type":"quantitative"},"text":{"field":"t","type":"nominal"},"color":{"field":"s","type":"nominal","scale":{"domain":["o","b","k","w"],"range":["#B8862B","#2B4B8E","#000000","#FFFFFF"]},"legend":null}}},
{"data":{"name":"ann"},"transform":[{"filter":"datum.pan=='LB' && datum.k=='Si'"}],"mark":{"type":"text","font":"Liberation Serif","fontSize":20,"fontStyle":"italic","align":"left","baseline":"alphabetic"},"encoding":{"x":{"field":"p","type":"quantitative","axis":null},"y":{"field":"y","type":"quantitative"},"text":{"field":"t","type":"nominal"},"color":{"field":"s","type":"nominal","scale":{"domain":["o","b","k","w"],"range":["#B8862B","#2B4B8E","#000000","#FFFFFF"]},"legend":null}}},
{"data":{"name":"ann"},"transform":[{"filter":"datum.pan=='LB' && datum.k=='Sr'"}],"mark":{"type":"text","font":"Liberation Serif","fontSize":20,"align":"left","baseline":"alphabetic"},"encoding":{"x":{"field":"p","type":"quantitative","axis":null},"y":{"field":"y","type":"quantitative"},"text":{"field":"t","type":"nominal"},"color":{"field":"s","type":"nominal","scale":{"domain":["o","b","k","w"],"range":["#B8862B","#2B4B8E","#000000","#FFFFFF"]},"legend":null}}}
]}
]},
{"bounds":"flush","spacing":24,"vconcat":[
{"width":355,"height":283,"resolve":{"axis":{"x":"independent","y":"independent"}},"layer":[
{"data":{"name":"pts"},"mark":{"type":"point","filled":true,"size":20,"color":"#E9A83A","opacity":0.85,"strokeWidth":0},
 "encoding":{"x":{"field":"p","type":"quantitative","scale":{"domain":[0,10],"nice":false,"zero":false},"axis":{"orient":"bottom","values":[0,2,4,6,8,10],"labels":false,"tickSize":-7,"title":null}},
 "y":{"field":"vx","type":"quantitative","scale":{"domain":[-6.155,-3.546],"nice":false,"zero":false},"axis":{"orient":"left","values":[-6,-5,-4],"labelExpr":"datum.value == -4 ? '10⁻⁴' : (datum.value == -5 ? '10⁻⁵' : '10⁻⁶')","labelOverlap":false,"tickSize":-8,"labelPadding":13,"title":"Δv² (m².s⁻²)","titleFontSize":30,"titleX":-103,"titleY":102,"titleBaseline":"middle"}}}},
{"data":{"name":"pts"},"mark":{"type":"point","filled":true,"size":20,"color":"#6E8FCB","opacity":0.85,"strokeWidth":0},
 "encoding":{"x":{"field":"p","type":"quantitative","axis":{"orient":"top","values":[0,2,4,6,8,10],"labels":false,"tickSize":-7,"title":null}},"y":{"field":"vn","type":"quantitative","axis":{"orient":"left","values":[-6.097,-6.046,-5.699,-5.523,-5.398,-5.301,-5.222,-5.155,-5.097,-5.046,-4.699,-4.523,-4.398,-4.301,-4.222,-4.155,-4.097,-4.046,-3.699],"labels":false,"tickSize":-4,"title":null}}}},
{"data":{"name":"fit"},"mark":{"type":"line","color":"#93650F","strokeWidth":1.6,"interpolate":"monotone"},"encoding":{"x":{"field":"p","type":"quantitative","axis":null},"y":{"field":"vx","type":"quantitative","axis":null}}},
{"data":{"name":"fit"},"mark":{"type":"line","color":"#1B3A7C","strokeWidth":1.6,"interpolate":"monotone"},"encoding":{"x":{"field":"p","type":"quantitative","axis":null},"y":{"field":"vn","type":"quantitative","axis":null}}},
{"data":{"name":"refl"},"transform":[{"filter":"datum.pan=='RT'"}],"mark":{"type":"rule","color":"#000","strokeWidth":1,"strokeDash":[3,2]},"encoding":{"y":{"field":"y","type":"quantitative","axis":null}}},
{"data":{"name":"lead"},"transform":[{"filter":"datum.pan=='RT' && datum.kind=='th'"}],"mark":{"type":"line","color":"#000","strokeWidth":0.9,"strokeDash":[3,2]},"encoding":{"x":{"field":"p","type":"quantitative","axis":null},"y":{"field":"y","type":"quantitative","axis":null},"detail":{"field":"id","type":"nominal"}}},
{"data":{"name":"lead"},"transform":[{"filter":"datum.pan=='RT' && datum.kind=='min'"}],"mark":{"type":"line","color":"#2B4B8E","strokeWidth":1.2},"encoding":{"x":{"field":"p","type":"quantitative","axis":null},"y":{"field":"y","type":"quantitative","axis":null},"detail":{"field":"id","type":"nominal"}}},
{"data":{"name":"ann"},"transform":[{"filter":"datum.pan=='RT' && datum.k=='Tb'"}],"mark":{"type":"point","shape":"square","size":900,"filled":true,"color":"#22479A","opacity":1,"strokeWidth":0},"encoding":{"x":{"field":"p","type":"quantitative","axis":null},"y":{"field":"y","type":"quantitative","axis":null}}},
{"data":{"name":"ann"},"transform":[{"filter":"datum.pan=='RT' && datum.k=='Tb'"}],"mark":{"type":"text","font":"Liberation Sans","fontSize":27,"align":"center","baseline":"middle","dy":-1},"encoding":{"x":{"field":"p","type":"quantitative","axis":null},"y":{"field":"y","type":"quantitative","axis":null},"text":{"field":"t","type":"nominal"},"color":{"field":"s","type":"nominal","scale":{"domain":["o","b","k","w"],"range":["#B8862B","#2B4B8E","#000000","#FFFFFF"]},"legend":null}}},
{"data":{"name":"ann"},"transform":[{"filter":"datum.pan=='RT' && datum.k=='Ts'"}],"mark":{"type":"text","font":"Liberation Sans","fontSize":26,"align":"left","baseline":"alphabetic"},"encoding":{"x":{"field":"p","type":"quantitative","axis":null},"y":{"field":"y","type":"quantitative","axis":null},"text":{"field":"t","type":"nominal"},"color":{"field":"s","type":"nominal","scale":{"domain":["o","b","k","w"],"range":["#B8862B","#2B4B8E","#000000","#FFFFFF"]},"legend":null}}},
{"data":{"name":"ann"},"transform":[{"filter":"datum.pan=='RT' && datum.k=='Ti'"}],"mark":{"type":"text","font":"Liberation Serif","fontSize":30,"fontStyle":"italic","align":"left","baseline":"alphabetic"},"encoding":{"x":{"field":"p","type":"quantitative","axis":null},"y":{"field":"y","type":"quantitative","axis":null},"text":{"field":"t","type":"nominal"},"color":{"field":"s","type":"nominal","scale":{"domain":["o","b","k","w"],"range":["#B8862B","#2B4B8E","#000000","#FFFFFF"]},"legend":null}}},
{"data":{"name":"ann"},"transform":[{"filter":"datum.pan=='RT' && datum.k=='Lr'"}],"mark":{"type":"text","font":"Liberation Serif","fontSize":30,"align":"left","baseline":"alphabetic"},"encoding":{"x":{"field":"p","type":"quantitative","axis":null},"y":{"field":"y","type":"quantitative","axis":null},"text":{"field":"t","type":"nominal"},"color":{"field":"s","type":"nominal","scale":{"domain":["o","b","k","w"],"range":["#B8862B","#2B4B8E","#000000","#FFFFFF"]},"legend":null}}},
{"data":{"name":"ann"},"transform":[{"filter":"datum.pan=='RT' && datum.k=='Li'"}],"mark":{"type":"text","font":"Liberation Serif","fontSize":30,"fontStyle":"italic","align":"left","baseline":"alphabetic"},"encoding":{"x":{"field":"p","type":"quantitative","axis":null},"y":{"field":"y","type":"quantitative","axis":null},"text":{"field":"t","type":"nominal"},"color":{"field":"s","type":"nominal","scale":{"domain":["o","b","k","w"],"range":["#B8862B","#2B4B8E","#000000","#FFFFFF"]},"legend":null}}},
{"data":{"name":"ann"},"transform":[{"filter":"datum.pan=='RT' && datum.k=='Sr'"}],"mark":{"type":"text","font":"Liberation Serif","fontSize":20,"align":"left","baseline":"alphabetic"},"encoding":{"x":{"field":"p","type":"quantitative","axis":null},"y":{"field":"y","type":"quantitative","axis":null},"text":{"field":"t","type":"nominal"},"color":{"field":"s","type":"nominal","scale":{"domain":["o","b","k","w"],"range":["#B8862B","#2B4B8E","#000000","#FFFFFF"]},"legend":null}}},
{"data":{"name":"ann"},"transform":[{"filter":"datum.pan=='RT' && datum.k=='Mr'"}],"mark":{"type":"text","font":"Liberation Serif","fontSize":22,"align":"left","baseline":"alphabetic"},"encoding":{"x":{"field":"p","type":"quantitative","axis":null},"y":{"field":"y","type":"quantitative","axis":null},"text":{"field":"t","type":"nominal"},"color":{"field":"s","type":"nominal","scale":{"domain":["o","b","k","w"],"range":["#B8862B","#2B4B8E","#000000","#FFFFFF"]},"legend":null}}},
{"data":{"name":"ann"},"transform":[{"filter":"datum.pan=='RT' && datum.k=='Mi'"}],"mark":{"type":"text","font":"Liberation Serif","fontSize":22,"fontStyle":"italic","align":"left","baseline":"alphabetic"},"encoding":{"x":{"field":"p","type":"quantitative","axis":null},"y":{"field":"y","type":"quantitative","axis":null},"text":{"field":"t","type":"nominal"},"color":{"field":"s","type":"nominal","scale":{"domain":["o","b","k","w"],"range":["#B8862B","#2B4B8E","#000000","#FFFFFF"]},"legend":null}}},
{"data":{"name":"ann"},"transform":[{"filter":"datum.pan=='RT' && datum.k=='Nr'"}],"mark":{"type":"text","font":"Liberation Serif","fontSize":15,"align":"left","baseline":"alphabetic"},"encoding":{"x":{"field":"p","type":"quantitative","axis":null},"y":{"field":"y","type":"quantitative","axis":null},"text":{"field":"t","type":"nominal"},"color":{"field":"s","type":"nominal","scale":{"domain":["o","b","k","w"],"range":["#B8862B","#2B4B8E","#000000","#FFFFFF"]},"legend":null}}}
]},
{"width":355,"height":294,"resolve":{"axis":{"x":"independent"}},"layer":[
{"data":{"name":"pts"},"mark":{"type":"point","filled":true,"size":20,"color":"#E9A83A","opacity":0.85,"strokeWidth":0},
 "encoding":{"x":{"field":"p","type":"quantitative","scale":{"domain":[0,10],"nice":false,"zero":false},"axis":{"orient":"bottom","values":[0,2,4,6,8,10],"tickSize":-7,"labelPadding":8,"title":"P/Pₘ","titleFontStyle":"italic","titleFontSize":30,"titlePadding":2}},
 "y":{"field":"bvx","type":"quantitative","scale":{"domain":[-199.26,54.67],"nice":false,"zero":false},"axis":{"orient":"left","values":[45,0,-45,-90,-135,-180],"labelExpr":"datum.value + '°'","labelOverlap":false,"tickSize":-8,"labelPadding":13,"title":"βᵥ","titleFontStyle":"italic","titleFontSize":30,"titleX":-93,"titleBaseline":"middle"}}}},
{"data":{"name":"pts"},"mark":{"type":"point","filled":true,"size":20,"color":"#6E8FCB","opacity":0.85,"strokeWidth":0},
 "encoding":{"x":{"field":"p","type":"quantitative","axis":{"orient":"top","values":[0,2,4,6,8,10],"labels":false,"tickSize":-7,"title":null}},"y":{"field":"bvn","type":"quantitative"}}},
{"data":{"name":"fit"},"mark":{"type":"line","color":"#93650F","strokeWidth":1.6,"interpolate":"monotone"},"encoding":{"x":{"field":"p","type":"quantitative","axis":null},"y":{"field":"bvx","type":"quantitative"}}},
{"data":{"name":"fit"},"mark":{"type":"line","color":"#1B3A7C","strokeWidth":1.6,"interpolate":"monotone"},"encoding":{"x":{"field":"p","type":"quantitative","axis":null},"y":{"field":"bvn","type":"quantitative"}}},
{"data":{"name":"refl"},"transform":[{"filter":"datum.pan=='RB'"}],"mark":{"type":"rule","color":"#000","strokeWidth":1,"strokeDash":[3,2]},"encoding":{"y":{"field":"y","type":"quantitative"}}},
{"data":{"name":"ann"},"transform":[{"filter":"datum.pan=='RB' && datum.k=='Li'"}],"mark":{"type":"text","font":"Liberation Serif","fontSize":30,"fontStyle":"italic","align":"left","baseline":"alphabetic"},"encoding":{"x":{"field":"p","type":"quantitative","axis":null},"y":{"field":"y","type":"quantitative"},"text":{"field":"t","type":"nominal"},"color":{"field":"s","type":"nominal","scale":{"domain":["o","b","k","w"],"range":["#B8862B","#2B4B8E","#000000","#FFFFFF"]},"legend":null}}},
{"data":{"name":"ann"},"transform":[{"filter":"datum.pan=='RB' && datum.k=='Si'"}],"mark":{"type":"text","font":"Liberation Serif","fontSize":20,"fontStyle":"italic","align":"left","baseline":"alphabetic"},"encoding":{"x":{"field":"p","type":"quantitative","axis":null},"y":{"field":"y","type":"quantitative"},"text":{"field":"t","type":"nominal"},"color":{"field":"s","type":"nominal","scale":{"domain":["o","b","k","w"],"range":["#B8862B","#2B4B8E","#000000","#FFFFFF"]},"legend":null}}},
{"data":{"name":"ann"},"transform":[{"filter":"datum.pan=='RB' && datum.k=='Sr'"}],"mark":{"type":"text","font":"Liberation Serif","fontSize":20,"align":"left","baseline":"alphabetic"},"encoding":{"x":{"field":"p","type":"quantitative","axis":null},"y":{"field":"y","type":"quantitative"},"text":{"field":"t","type":"nominal"},"color":{"field":"s","type":"nominal","scale":{"domain":["o","b","k","w"],"range":["#B8862B","#2B4B8E","#000000","#FFFFFF"]},"legend":null}}}
]}
]}
]
}
